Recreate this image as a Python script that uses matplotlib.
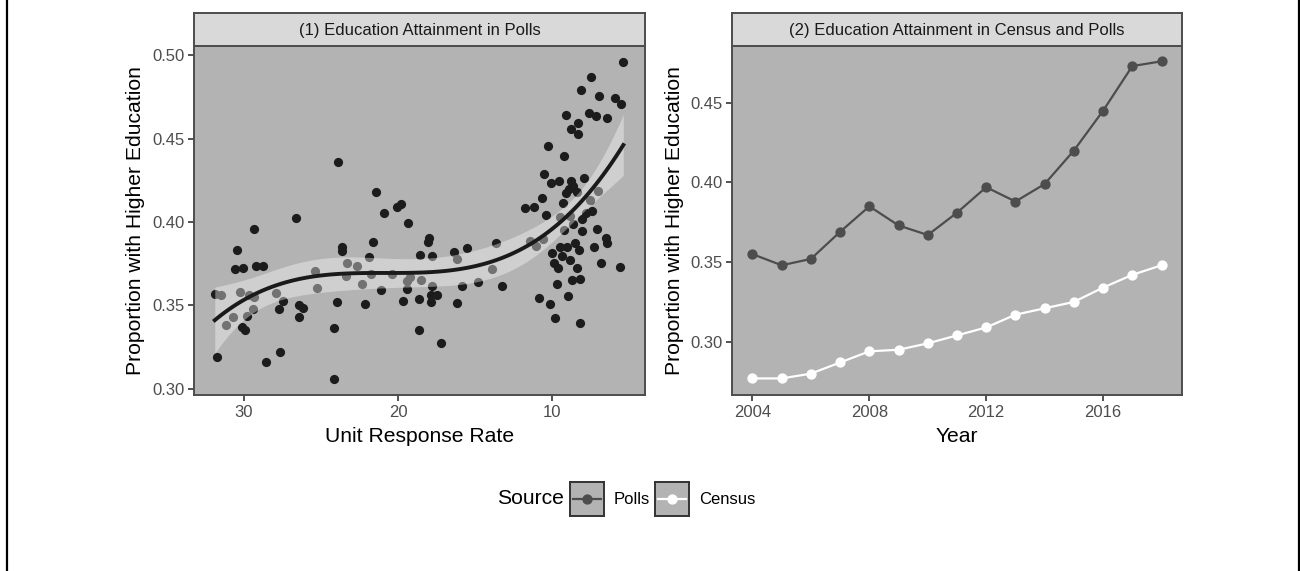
import numpy as np
import matplotlib.pyplot as plt
from matplotlib.lines import Line2D

plt.rcParams['font.family'] = ['Liberation Sans', 'DejaVu Sans']

# panel 1: unit response rate (%) vs share of respondents with higher education
response_rate = [
    23.90, 26.60, 29.33, 30.44, 30.60, 30.06, 29.20, 28.77, 25.39, 31.90, 31.47,
    30.26, 29.68, 29.35, 27.92, 25.24, 27.45, 27.75, 26.43, 26.15, 26.45, 29.42,
    30.73, 29.79, 31.17, 30.15, 29.95, 23.98, 24.16, 31.77, 28.59, 27.66, 24.16,
    21.45, 20.08, 19.81, 20.89, 19.33, 23.64, 23.62, 21.64, 21.86, 23.33, 22.66,
    17.99, 18.05, 18.57, 17.79, 16.38, 15.50, 16.15, 23.36, 21.75, 20.41, 22.32,
    19.44, 19.24, 18.49, 17.77, 14.79, 21.08, 19.40, 22.14, 19.69, 18.66, 17.86,
    17.49, 17.84, 16.17, 15.82, 18.66, 17.19,
    5.37, 7.49, 8.14, 6.95, 5.89, 5.50, 9.07, 7.60, 7.16, 6.43, 8.33, 8.79, 8.31,
    10.24, 9.22, 10.50, 10.05, 9.53, 7.90, 8.79, 8.62, 8.36, 8.88, 9.09, 10.67,
    7.03, 7.51, 9.27, 11.73, 11.15, 10.37, 9.51, 8.83, 8.64, 8.05, 7.79, 7.40,
    9.19, 8.03, 7.10, 6.49, 6.46, 7.24, 8.51, 8.25, 9.03, 9.51, 10.00, 9.38, 9.87,
    9.58, 8.80, 8.36, 6.80, 5.58, 13.64, 11.43, 11.02, 10.60, 13.92, 13.25, 8.70,
    8.20, 9.69, 10.82, 10.10, 8.99, 9.79, 8.15,
]
higher_ed = [
    0.4361, 0.4022, 0.3960, 0.3834, 0.3719, 0.3725, 0.3735, 0.3735, 0.3707, 0.3569, 0.3565,
    0.3581, 0.3563, 0.3553, 0.3577, 0.3605, 0.3529, 0.3479, 0.3501, 0.3485, 0.3433, 0.3481,
    0.3429, 0.3435, 0.3385, 0.3371, 0.3355, 0.3521, 0.3363, 0.3193, 0.3160, 0.3220, 0.3058,
    0.4178, 0.4088, 0.4108, 0.4056, 0.3996, 0.3852, 0.3828, 0.3878, 0.3789, 0.3756, 0.3737,
    0.3902, 0.3880, 0.3802, 0.3795, 0.3820, 0.3842, 0.3777, 0.3677, 0.3690, 0.3690, 0.3631,
    0.3648, 0.3671, 0.3651, 0.3619, 0.3643, 0.3593, 0.3597, 0.3509, 0.3527, 0.3539, 0.3565,
    0.3565, 0.3523, 0.3517, 0.3615, 0.3355, 0.3275,
    0.4960, 0.4866, 0.4789, 0.4753, 0.4741, 0.4707, 0.4639, 0.4653, 0.4635, 0.4623, 0.4595,
    0.4559, 0.4527, 0.4457, 0.4395, 0.4289, 0.4234, 0.4244, 0.4262, 0.4246, 0.4216, 0.4181,
    0.4196, 0.4172, 0.4146, 0.4186, 0.4132, 0.4112, 0.4082, 0.4092, 0.4042, 0.4030, 0.4034,
    0.3991, 0.4020, 0.4052, 0.4063, 0.3955, 0.3946, 0.3958, 0.3907, 0.3877, 0.3852, 0.3876,
    0.3832, 0.3849, 0.3849, 0.3817, 0.3799, 0.3757, 0.3726, 0.3774, 0.3725, 0.3754, 0.3732,
    0.3872, 0.3888, 0.3858, 0.3901, 0.3720, 0.3619, 0.3650, 0.3659, 0.3626, 0.3545, 0.3508,
    0.3554, 0.3428, 0.3395,
]

# panel 2: yearly series
years = [2004, 2005, 2006, 2007, 2008, 2009, 2010, 2011, 2012, 2013, 2014, 2015, 2016, 2017, 2018]
polls = [0.355, 0.348, 0.352, 0.369, 0.385, 0.373, 0.367, 0.381, 0.397, 0.388, 0.399, 0.420, 0.445, 0.473, 0.476]
census = [0.277, 0.277, 0.280, 0.287, 0.294, 0.295, 0.299, 0.304, 0.309, 0.317, 0.321, 0.325, 0.334, 0.342, 0.348]

panel_bg = '#b3b3b3'
border = '#4d4d4d'
strip_bg = '#d9d9d9'
polls_col = '#4d4d4d'
small = 12
big = 15.2

fig = plt.figure(figsize=(13, 5.71), dpi=100)

W, H = 1300, 571


def px_axes(x0, y0, x1, y1):
    return fig.add_axes([x0 / W, 1 - y1 / H, (x1 - x0) / W, (y1 - y0) / H])


def style_panel(ax, title, x0, x1):
    ax.set_facecolor(panel_bg)
    for s in ax.spines.values():
        s.set_color(border)
        s.set_linewidth(1.4)
    ax.tick_params(length=4, width=1.2, color='#333333', labelcolor='#4d4d4d',
                   labelsize=small, pad=3)
    strip = px_axes(x0, 13, x1, 46)
    strip.set_facecolor(strip_bg)
    strip.set_xticks([])
    strip.set_yticks([])
    for s in strip.spines.values():
        s.set_color(border)
        s.set_linewidth(1.4)
    strip.text(0.5, 0.48, title, ha='center', va='center', fontsize=small,
               color='#1a1a1a', transform=strip.transAxes)


# (1) scatter with cubic fit and 95% band
ax1 = px_axes(194, 46, 645, 395)
style_panel(ax1, '(1) Education Attainment in Polls', 194, 645)

x = np.array(response_rate)
y = np.array(higher_ed)
ax1.scatter(x, y, s=44, color='#1c1c1c', linewidths=0, zorder=2)

X = np.vander(x, 4)
beta, *_ = np.linalg.lstsq(X, y, rcond=None)
resid = y - X @ beta
s2 = resid @ resid / (len(x) - 4)
cov = s2 * np.linalg.inv(X.T @ X)
xs = np.linspace(x.min(), x.max(), 120)
Xs = np.vander(xs, 4)
fit = Xs @ beta
se = np.sqrt(np.einsum('ij,jk,ik->i', Xs, cov, Xs))
ax1.fill_between(xs, fit - 1.977 * se, fit + 1.977 * se, color='white',
                 alpha=0.38, linewidth=0, zorder=3)
ax1.plot(xs, fit, color='#1a1a1a', lw=2.8, zorder=4)

ax1.set_xlim(33.25, 3.96)
ax1.set_ylim(0.2964, 0.5054)
ax1.set_xticks([30, 20, 10])
ax1.set_yticks([0.30, 0.35, 0.40, 0.45, 0.50])
ax1.set_yticklabels(['0.30', '0.35', '0.40', '0.45', '0.50'])
ax1.set_xlabel('Unit Response Rate', fontsize=big, labelpad=5)
ax1.set_ylabel('Proportion with Higher Education', fontsize=big, labelpad=5)

# (2) yearly comparison
ax2 = px_axes(732, 46, 1182, 395)
style_panel(ax2, '(2) Education Attainment in Census and Polls', 732, 1182)
ax2.plot(years, polls, color=polls_col, lw=1.6, marker='o', ms=6.4, zorder=3)
ax2.plot(years, census, color='white', lw=1.6, marker='o', ms=6.4, zorder=3)
ax2.set_xlim(2003.3, 2018.7)
ax2.set_ylim(0.2666, 0.4856)
ax2.set_xticks([2004, 2008, 2012, 2016])
ax2.set_yticks([0.30, 0.35, 0.40, 0.45])
ax2.set_yticklabels(['0.30', '0.35', '0.40', '0.45'])
ax2.set_xlabel('Year', fontsize=big, labelpad=5)
ax2.set_ylabel('Proportion with Higher Education', fontsize=big, labelpad=4)

# legend built by hand so the keys get the panel fill
leg_y = 1 - 499 / H
fig.text(564 / W, leg_y, 'Source', ha='right', va='center', fontsize=big)
for kx, label, col in [(570, 'Polls', polls_col), (655, 'Census', 'white')]:
    key = px_axes(kx, 482, kx + 34, 516)
    key.set_facecolor(panel_bg)
    key.set_xticks([])
    key.set_yticks([])
    for s in key.spines.values():
        s.set_color('#333333')
        s.set_linewidth(1.4)
    key.set_xlim(0, 1)
    key.set_ylim(0, 1)
    key.plot([0.1, 0.9], [0.5, 0.5], color=col, lw=1.6)
    key.plot([0.5], [0.5], marker='o', ms=6.4, color=col)
    fig.text((kx + 44) / W, leg_y, label, ha='left', va='center', fontsize=small)

# side rules
fig.add_artist(Line2D([7 / W, 7 / W], [0, 1], color='black', lw=1.6))
fig.add_artist(Line2D([1299 / W, 1299 / W], [0, 1], color='black', lw=1.6))

fig.savefig('out.png', dpi=100, facecolor='white')
